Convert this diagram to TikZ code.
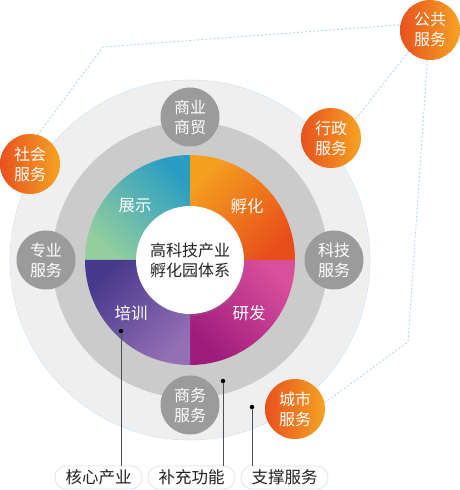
\documentclass[tikz,border=0pt]{standalone}
\usepackage{fontspec}
\setmainfont{Noto Sans CJK SC}
\usetikzlibrary{shadows}
\definecolor{outerc}{HTML}{EFEFEF}
\definecolor{ringc}{HTML}{CBCBCB}
\definecolor{greyc}{HTML}{9B9B9B}
\definecolor{orA}{HTML}{E8511E}
\definecolor{orB}{HTML}{F5A323}
\definecolor{dashc}{HTML}{B9D3EA}
\definecolor{tealc}{HTML}{2A9DC2}
\definecolor{greenc}{HTML}{94CE9E}
\definecolor{orlight}{HTML}{F4A01F}
\definecolor{ordark}{HTML}{E84E1B}
\definecolor{pinkc}{HTML}{DA4F9C}
\definecolor{magc}{HTML}{9E1B7B}
\definecolor{purdark}{HTML}{46388A}
\definecolor{purlight}{HTML}{9370B4}
\definecolor{textc}{HTML}{222222}
\definecolor{linec}{HTML}{4A4F57}
\definecolor{boxc}{HTML}{DCE5EE}
\begin{document}
\begin{tikzpicture}[x=1pt,y=1pt,
  txt/.style={font=\fontsize{16}{20}\selectfont, align=center},
  greybub/.style={circle, fill=greyc, minimum size=59pt, inner sep=0pt, text=white, txt},
  orbub/.style={circle, left color=orA, right color=orB, minimum size=60pt, inner sep=0pt, text=white, txt},
  dashline/.style={draw=dashc, line width=0.9pt, dash pattern=on 2pt off 2pt},
  leader/.style={draw=linec, line width=1pt},
  dotc/.style={circle, fill=black, inner sep=0pt, minimum size=4.5pt},
  labbox/.style={draw=boxc, line width=0.8pt, fill=white, rounded corners=11pt, minimum width=87pt, minimum height=23pt, inner sep=0pt, text=textc, font=\fontsize{16.5}{20}\selectfont},
  quadlab/.style={text=white, font=\fontsize{16.5}{20}\selectfont}
]
\useasboundingbox (0,0) rectangle (460,490);
\coordinate (C) at (190,230);
% outer circles
\fill[outerc, draw=dashc!60, line width=0.6pt] (C) circle (180);
\fill[ringc] (C) circle (138);
% quadrants
\path[top color=tealc, bottom color=greenc, shading angle=-45] (C) -- ++(0,105) arc (90:180:105) -- cycle;
\path[top color=orlight, bottom color=ordark, shading angle=45] (C) -- ++(105,0) arc (0:90:105) -- cycle;
\path[top color=pinkc, bottom color=magc, shading angle=-45] (C) -- ++(0,-105) arc (270:360:105) -- cycle;
\path[top color=purdark, bottom color=purlight, shading angle=45] (C) -- ++(-105,0) arc (180:270:105) -- cycle;
% center
\node[circle, fill=white, minimum size=108pt, inner sep=0pt, drop shadow={opacity=0.25, shadow xshift=1pt, shadow yshift=-2pt}, text=textc, txt] (core) at (C) {高科技产业\\孵化园体系};
% quadrant labels
\node[quadlab] (zs) at (135,284) {展示};
\node[quadlab] (fh) at (247,284) {孵化};
\node[quadlab] (px) at (131,177) {培训};
\node[quadlab] (yf) at (249,177) {研发};
% grey bubbles
\node[greybub] (symm) at (190,373) {商业\\商贸};
\node[greybub] (zyfw) at (46,230) {专业\\服务};
\node[greybub] (kjfw) at (334,230) {科技\\服务};
\node[greybub] (swfw) at (190,85) {商务\\服务};
% orange bubbles
\node[orbub] (shfw) at (30,326) {社会\\服务};
\node[orbub] (xzfw) at (331,352) {行政\\服务};
\node[orbub] (csfw) at (295,81) {城市\\服务};
\node[orbub] (ggfw) at (430,460) {公共\\服务};
% dashed links
\coordinate (b1) at (103,443);
\coordinate (b2) at (408,148);
\draw[dashline] (shfw.75) -- (b1) -- (ggfw.170);
\draw[dashline] (ggfw.225) -- (xzfw.37);
\draw[dashline] (ggfw.265) -- (b2) -- (csfw.12);
% labels
\node[labbox] (hx) at (98.5,12.5) {核心产业};
\node[labbox] (bc) at (191.5,12.5) {补充功能};
\node[labbox] (zc) at (284.5,12.5) {支撑服务};
\node[dotc] (d1) at (121,159) {};
\node[dotc] (d2) at (223,109) {};
\node[dotc] (d3) at (252,83) {};
\draw[leader] (d1) -- (d1 |- hx.north);
\draw[leader] (d2) -- (d2 |- bc.north);
\draw[leader] (d3) -- (d3 |- zc.north);
\end{tikzpicture}
\end{document}
